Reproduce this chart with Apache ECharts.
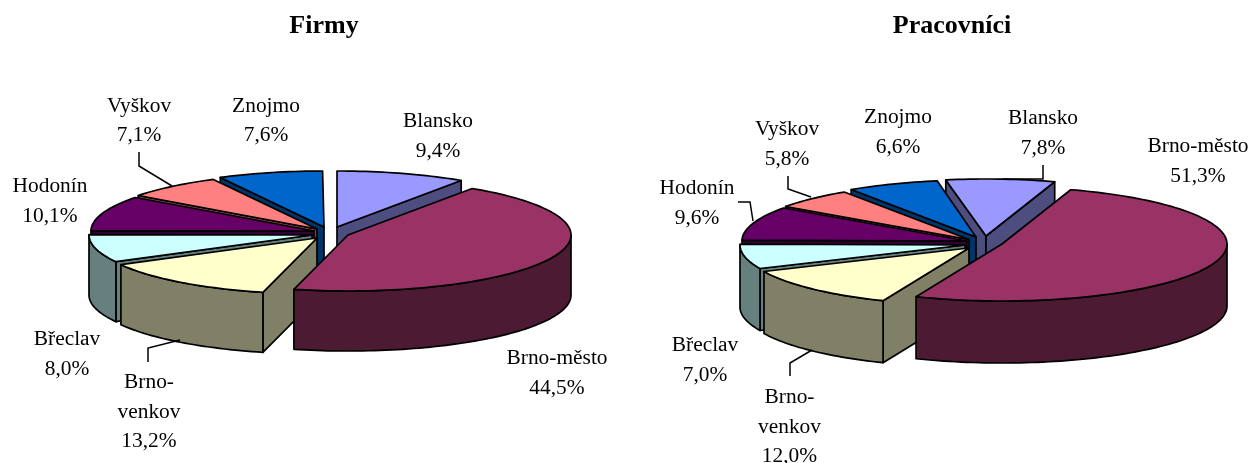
<!DOCTYPE html>
<html>
<head>
<meta charset="utf-8">
<style>html,body{margin:0;padding:0;background:#fff}#c{width:1251px;height:463px}</style>
<script src="https://cdn.jsdelivr.net/npm/echarts@6/dist/echarts.min.js"></script>
</head>
<body>
<div id="c"></div>
<script>
// --- data ---
const chartTitles = ['Firmy', 'Pracovníci'];
const categories = ['Blansko', 'Brno-město', 'Brno-venkov', 'Břeclav', 'Hodonín', 'Vyškov', 'Znojmo'];
const firmyValues = [9.4, 44.5, 13.2, 8.0, 10.1, 7.1, 7.6];
const pracovniciValues = [7.8, 51.3, 12.0, 7.0, 9.6, 5.8, 6.6];
const labelLines = {'Brno-venkov': ['Brno-', 'venkov']};

// --- styles and layout ---
const topColors = ['#9999FF', '#993366', '#FFFFCC', '#CCFFFF', '#660066', '#FF8080', '#0066CC'];
const sideColors = ['#4D4D80', '#4D1A33', '#808066', '#668080', '#330033', '#804040', '#003366'];
const paintOrder = [0, 6, 5, 4, 3, 2, 1];
const FONT = '"Liberation Serif","Times New Roman",serif';
const LABEL_SIZE = 20, LINE_H = 29.3, LABEL_STRETCH = 1.07, LABEL_DY = 1;

const layouts = [{
  cx: 327, cy: 233, rx: 223, ry: 56, depth: 60, startAngle: 0, titleX: 319,
  pull: [[10,-6],[21,2],[-10,5],[-15,2],[-13,-2],[-10,-4],[-3,-6]],
  labels: [[438,121],[557,358],[149,382],[67,339],[50,186],[139,105.5],[266,105.5]],
  leaders: {2: [[148,362],[148,348],[180,340]], 5: [[139,152],[139,166],[172,186]]}
},{
  cx: 972, cy: 240, rx: 225, ry: 57, depth: 62, startAngle: -10.3, titleX: 947,
  pull: [[14,-4],[30,4],[-3,8],[-7,5],[-5,1],[-3,-0.5],[4,-3]],
  labels: [[1043,118],[1198,146],[789.5,397],[705,345],[697,188],[787,129],[898,117]],
  leaders: {0: [[1043,165],[1043,179],[1003,179]], 2: [[790,376],[790,363],[812,350]],
            4: [[738,202],[750,202],[753,221]], 5: [[788,176],[788,189],[811,197]]}
}];

const rad = d => d * Math.PI / 180;

function sliceGeometry(values, L) {
  let acc = L.startAngle;
  return values.map(v => {
    const a = acc, b = acc + v * 3.6;
    acc = b;
    return {a, b};
  });
}

function makeRenderItem(values, L) {
  const geo = sliceGeometry(values, L);
  const stroke = {stroke: '#000', lineWidth: 1.7, lineJoin: 'round'};
  return function (params, api) {
    const i = api.value(0);
    const {a, b} = geo[i];
    const ax = L.cx + L.pull[i][0], ay = L.cy + L.pull[i][1];
    const pt = (deg, dy) => [ax + L.rx * Math.sin(rad(deg)), ay - L.ry * Math.cos(rad(deg)) + (dy || 0)];
    const arc = (from, to, dy) => {
      const out = [], n = Math.max(2, Math.ceil((to - from) / 1.5));
      for (let k = 0; k <= n; k++) out.push(pt(from + (to - from) * k / n, dy));
      return out;
    };
    const side = sideColors[i];
    const children = [];
    const poly = (points, fill) => children.push({type: 'polygon', shape: {points}, style: Object.assign({fill}, stroke)});
    const d = L.depth, apex = [ax, ay], apexB = [ax, ay + d];

    // radial faces facing the viewer
    if (Math.sin(rad(a)) < 0) poly([apex, pt(a), pt(a, d), apexB], side);
    if (Math.sin(rad(b)) > 0) poly([apex, pt(b), pt(b, d), apexB], side);
    // front outer wall
    const from = Math.max(a, 90), to = Math.min(b, 270);
    if (to > from) poly(arc(from, to).concat(arc(from, to, d).reverse()), side);
    // top face
    poly([apex].concat(arc(a, b)), topColors[i]);

    // leader line
    const leader = L.leaders[i];
    if (leader) children.push({type: 'polyline', shape: {points: leader}, style: {fill: null, stroke: '#000', lineWidth: 1.5}});
    // label
    const name = categories[i];
    const lines = (labelLines[name] || [name]).concat([values[i].toFixed(1).replace('.', ',') + '%']);
    lines.forEach((t, k) => children.push({
      type: 'text', x: L.labels[i][0], y: L.labels[i][1] + LABEL_DY + k * LINE_H, scaleX: LABEL_STRETCH,
      style: {text: t, align: 'center', verticalAlign: 'middle', fontFamily: FONT, fontSize: LABEL_SIZE, fill: '#000'}
    }));
    return {type: 'group', children};
  };
}

function pieSeries(values, L) {
  return {
    type: 'custom',
    coordinateSystem: 'none',
    silent: true,
    animation: false,
    data: paintOrder.map(i => ({name: categories[i], value: [i, values[i]]})),
    renderItem: makeRenderItem(values, L)
  };
}

const chart = echarts.init(document.getElementById('c'), null, {renderer: 'canvas'});
chart.setOption({
  animation: false,
  backgroundColor: '#fff',
  title: chartTitles.map((t, i) => ({
    text: t, left: layouts[i].titleX, top: 8, textAlign: 'center',
    textStyle: {fontFamily: FONT, fontWeight: 'bold', fontSize: 26, color: '#000'}
  })),
  series: [pieSeries(firmyValues, layouts[0]), pieSeries(pracovniciValues, layouts[1])]
});
</script>
</body>
</html>
